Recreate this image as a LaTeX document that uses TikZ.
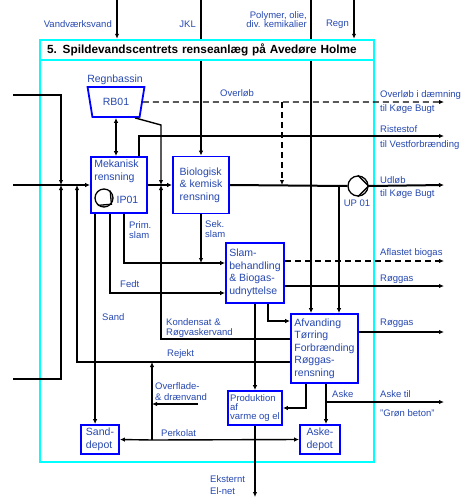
\documentclass[tikz,border=0pt]{standalone}
\usepackage{fontspec}
\setmainfont{Liberation Sans}
\usetikzlibrary{arrows.meta}
\usetikzlibrary{shapes.geometric}

\definecolor{txtblue}{RGB}{38,72,176}
\definecolor{boxblue}{RGB}{0,0,255}
\definecolor{framecyan}{RGB}{0,255,255}

\tikzset{
	flow/.style={line width=1.4pt, -{Latex[length=5pt,width=4.5pt]}},
	mainflow/.style={flow, line width=2pt},
	overflow/.style={flow, dash pattern=on 6pt off 4pt},
	unit/.style={draw=boxblue, line width=1.8pt, fill=white, text=txtblue, font=\fontsize{10.5}{12.5}\selectfont, align=left, inner sep=1.5pt},
	lbl/.style={text=txtblue, font=\fontsize{9.5}{10}\selectfont, inner sep=0pt, align=left},
	boxlbl/.style={lbl, font=\fontsize{10.5}{13}\selectfont},
	pump/.style={circle, draw, line width=1.3pt, fill=white, minimum size=20pt, inner sep=0pt},
}

\begin{document}
\begin{tikzpicture}[x=1pt,y=-1pt]
	\useasboundingbox (0,0) rectangle (464,499);
	\node[draw=framecyan, line width=2.5pt, minimum width=334pt, minimum height=422pt, inner sep=0pt] (ramme) at (207,251) {};

	\node[trapezium, trapezium angle=70, trapezium stretches=true, shape border rotate=180, minimum width=57pt, minimum height=30pt, draw=boxblue, line width=1.8pt, text=txtblue, font=\fontsize{10.5}{12}\selectfont, inner sep=0pt] (rb) at (116,102) {RB01};
	\node[unit, minimum width=56pt, minimum height=56pt] (mek) at (119,185) {};
	\node[unit, minimum width=56pt, minimum height=57pt] (bio) at (201,185) {Biologisk\\\& kemisk\\rensning};
	\node[unit, minimum width=58pt, minimum height=60pt] (slam) at (255,273) {Slam-\\behandling\\\& Biogas-\\udnyttelse};
	\node[unit, minimum width=67pt, minimum height=69pt] (afv) at (324.5,348.5) {Afvanding\\T{\o}rring\\Forbr{\ae}nding\\R{\o}ggas-\\rensning};
	\node[unit, minimum width=54pt, minimum height=34pt, font=\fontsize{9.5}{9}\selectfont] (prod) at (255,408) {Produktion\\af\\varme og el};
	\node[unit, minimum width=38pt, minimum height=29pt] (sand) at (100,439.5) {Sand-\\depot};
	\node[unit, minimum width=40pt, minimum height=29pt] (aske) at (320,439.5) {Aske-\\depot};

	\coordinate (inVand) at (117,0);
	\coordinate (inJKL) at (201,0);
	\coordinate (inPoly) at (311,0);
	\coordinate (inRegn) at (354,0);
	\coordinate (inTop) at (13,95);
	\coordinate (inMain) at (13,185);
	\coordinate (inBot) at (13,379);
	\coordinate (j61) at (61,185);
	\coordinate (j77) at (77,185);
	\coordinate (j161) at (161,185);
	\coordinate (j282) at (282,185);
	\coordinate (j339) at (339,185);
	\coordinate (rbKnk) at (161,125);
	\coordinate (outOvl) at (444,102);
	\coordinate (outRist) at (444,136);
	\coordinate (outUdl) at (444,185);
	\coordinate (outBiog) at (444,261);
	\coordinate (outRog1) at (444,286);
	\coordinate (outRog2) at (444,332);
	\coordinate (outAske) at (444,402);
	\coordinate (outEl) at (255,497);
	\coordinate (ovfl) at (198,404);
	\coordinate (jRej) at (152,362);
	\coordinate (jPerk) at (152,440);
	\coordinate (slamInd) at ([yshift=10pt]slam.west);
	\coordinate (askeGren) at ([xshift=1.5pt]afv.south |- outAske);

	\node[pump] (up) at (358,186) {};
	\draw[line width=1.3pt] (up.90) -- (up.0) -- (up.-90);
	\node[pump, minimum size=18pt] (ip) at (104,198) {};
	\draw[line width=1.3pt] (ip.50) -- (ip.-40) -- (ip.-130);

	\draw[flow] (inVand) -- (inVand |- ramme.north);
	\draw[flow] (inJKL) -- (bio.north);
	\draw[flow] (inPoly) -- (inPoly |- afv.north);
	\draw[flow] (inRegn) -- (inRegn |- ramme.north);

	\draw[mainflow] (inMain) -- (mek.west);
	\draw[mainflow] (mek.east) -- (bio.west);
	\draw[mainflow, -] (bio.east) -- (up.west);
	\draw[mainflow] (up.east) -- (outUdl);
	\draw[mainflow] (inTop) -| (j61);
	\draw[mainflow] (inBot) -| (j61);
	\draw[mainflow] ([yshift=-13.5pt]afv.west) -| (j77);
	\draw[flow] ([yshift=9.5pt]afv.west) -| (j161);
	\draw[flow] ([xshift=19pt]rb.south) -- (rbKnk) -- (j161);
	\draw[flow, {Latex[length=5pt,width=4.5pt]}-{Latex[length=5pt,width=4.5pt]}] (rb.south) -- (rb.south |- mek.north);
	\draw[overflow] (rb.east) -- (outOvl);
	\draw[overflow] (rb.east -| j282) -- (j282);
	\draw[mainflow] ([xshift=-9pt]mek.north east) |- (outRist);

	\draw[flow] ([xshift=5pt]mek.south west) -- ([xshift=5pt]mek.south west |- sand.north);
	\draw[flow] ([xshift=20pt]mek.south west) |- ([yshift=-20pt]slam.west);
	\draw[flow] ([xshift=34pt]mek.south west) |- (slamInd);
	\draw[flow] (bio.south) -- (bio.south |- slamInd);

	\draw[overflow] (outBiog -| slam.east) -- (outBiog);
	\draw[flow] (outRog1 -| slam.east) -- (outRog1);
	\draw[flow] (slam.south) -- (prod.north);
	\draw[flow] ([xshift=13pt]slam.south) |- ([yshift=27.5pt]afv.west);
	\draw[flow] (j339) -- (j339 |- afv.north);
	\draw[flow] (outRog2 -| afv.east) -- (outRog2);
	\draw[flow] ([xshift=-18.5pt]afv.south) |- (prod.east);
	\draw[flow] ([xshift=1.5pt]afv.south) -- ([xshift=1.5pt]afv.south |- aske.north);
	\draw[flow] (askeGren) -- (outAske);
	\draw[flow] (prod.south) -- (outEl);

	\draw[flow] (jPerk) -- (sand.east);
	\draw[flow] (jPerk) -- (aske.west);
	\draw[flow] (jPerk) -- (jRej);
	\draw[flow] (ovfl) -- (ovfl -| jPerk);

	\node[draw=framecyan, line width=2.5pt, fill=white, minimum width=334pt, minimum height=20pt, text width=320pt, inner xsep=7pt, font=\bfseries\fontsize{11.8}{13}\selectfont] (titel) at (207,50) {5. Spildevandscentrets renseanl{\ae}g p{\aa} Aved{\o}re Holme};

	\node[boxlbl, anchor=north west] (mekTxt) at ([xshift=4pt, yshift=-4pt]mek.north west) {Mekanisk\\rensning};
	\node[boxlbl] (ipTxt) at (127.5,200) {IP01};
	\node[boxlbl] (rbTxt) at (115,80) {Regnbassin};
	\node[lbl] (upTxt) at (357,203) {UP 01};

	\node[lbl, anchor=east] (lVand) at (112,24) {Vandv{\ae}rksvand};
	\node[lbl, anchor=east] (lJKL) at (196,24) {JKL};
	\node[lbl, anchor=east, align=right, font=\fontsize{9.5}{9.5}\selectfont] (lPoly) at (307,19.5) {Polymer, olie,\\div. kemikalier};
	\node[lbl, anchor=east] (lRegn) at (349,24) {Regn};
	\node[lbl, anchor=west] (lOvl) at (220,93) {Overl{\o}b};
	\node[lbl, anchor=west] (lOvlUd) at (380,95) {Overl{\o}b i d{\ae}mning};
	\node[lbl, anchor=west] (lOvlBugt) at (380,109) {til K{\o}ge Bugt};
	\node[lbl, anchor=west] (lRist) at (380,129) {Ristestof};
	\node[lbl, anchor=west] (lVest) at (380,145) {til Vestforbr{\ae}nding};
	\node[lbl, anchor=west] (lUdl) at (380,180) {Udl{\o}b};
	\node[lbl, anchor=west] (lUdlBugt) at (380,194) {til K{\o}ge Bugt};
	\node[lbl, anchor=west] (lBiog) at (380,253) {Aflastet biogas};
	\node[lbl, anchor=west] (lRog1) at (380,279) {R{\o}ggas};
	\node[lbl, anchor=west] (lRog2) at (380,323) {R{\o}ggas};
	\node[lbl, anchor=west] (lAskeTil) at (380,394) {Aske til};
	\node[lbl, anchor=west] (lBeton) at (380,413) {"Gr{\o}n beton"};
	\node[lbl, anchor=west] (lAske) at (332,394) {Aske};
	\node[lbl, anchor=west] (lPrim) at (129,230) {Prim.\\slam};
	\node[lbl, anchor=west] (lSek) at (205,229) {Sek.\\slam};
	\node[lbl, anchor=west] (lFedt) at (120,284) {Fedt};
	\node[lbl, anchor=west] (lSand) at (102,317) {Sand};
	\node[lbl, anchor=west, font=\fontsize{9.5}{9.5}\selectfont] (lKond) at (166,328) {Kondensat \&\\R{\o}gvaskervand};
	\node[lbl, anchor=west] (lRejekt) at (167,354) {Rejekt};
	\node[lbl, anchor=west, font=\fontsize{9.5}{11}\selectfont] (lOverfl) at (155,391.5) {Overflade-\\\& dr{\ae}nvand};
	\node[lbl, anchor=west] (lPerk) at (161,433) {Perkolat};
	\node[lbl, anchor=west, font=\fontsize{9.5}{11.5}\selectfont] (lEl) at (210,485) {Eksternt\\El-net};
\end{tikzpicture}
\end{document}
